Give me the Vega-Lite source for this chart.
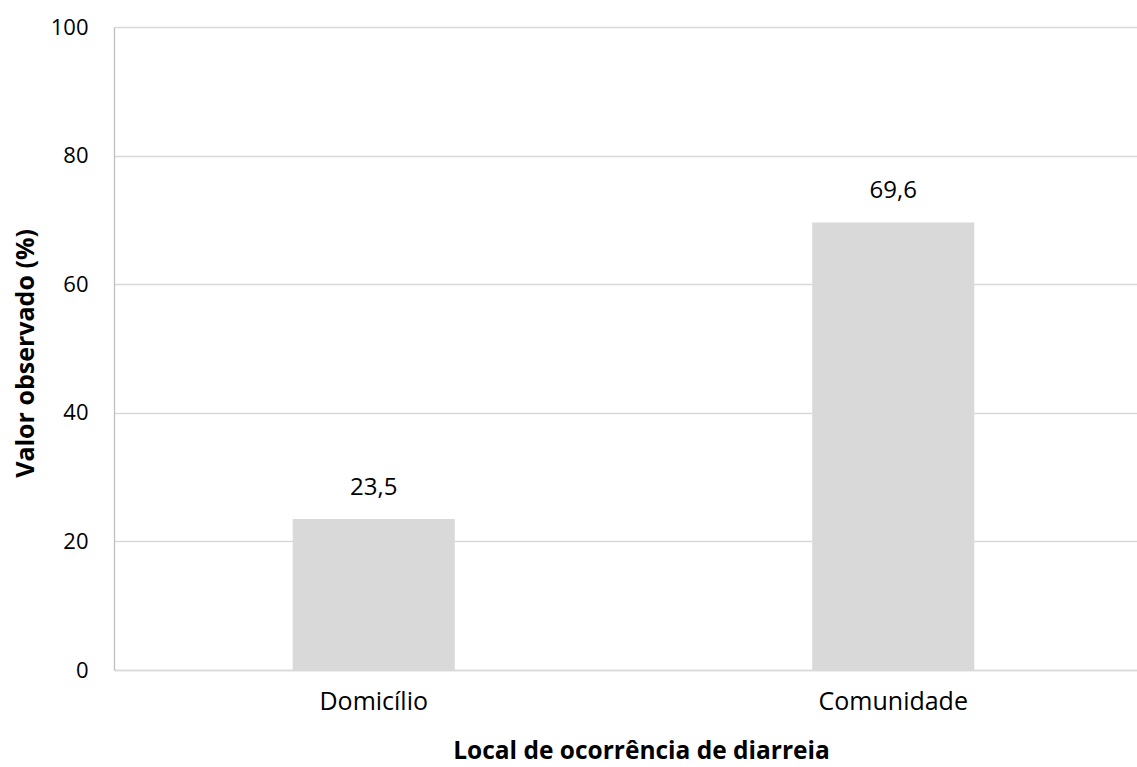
{
  "$schema": "https://vega.github.io/schema/vega-lite/v6.json",
  "width": 1023,
  "height": 643,
  "autosize": {"type": "none"},
  "padding": {"left": 114, "top": 27, "right": 0, "bottom": 97},
  "background": "white",
  "config": {
    "view": {"stroke": null},
    "font": "Open Sans",
    "locale": {"number": {"decimal": ",", "thousands": ".", "grouping": [3], "currency": ["R$", ""]}}
  },
  "data": {
    "values": [
      {"local": "Domicílio", "valor": 23.5},
      {"local": "Comunidade", "valor": 69.6}
    ]
  },
  "encoding": {
    "x": {
      "field": "local",
      "type": "nominal",
      "sort": null,
      "scale": {"range": [0, 1039], "paddingInner": 0.688, "paddingOuter": 0.344},
      "axis": {
        "title": "Local de ocorrência de diarreia",
        "titleFont": "Open Sans",
        "titleFontSize": 24.5,
        "titleFontWeight": "bold",
        "titleColor": "#000000",
        "titleX": 527,
        "titleY": 93,
        "titleBaseline": "bottom",
        "labelAngle": 0,
        "labelFontSize": 25,
        "labelColor": "#000000",
        "labelPadding": 19,
        "ticks": false,
        "domain": true,
        "domainColor": "#d9d9d9",
        "domainWidth": 1.3
      }
    },
    "y": {
      "field": "valor",
      "type": "quantitative",
      "scale": {"domain": [0, 100]},
      "axis": {
        "title": "Valor observado (%)",
        "titleFont": "Open Sans",
        "titleFontSize": 25,
        "titleFontWeight": "bold",
        "titleColor": "#000000",
        "titleX": -89,
        "titleY": 326,
        "titleAngle": -90,
        "titleBaseline": "middle",
        "values": [0, 20, 40, 60, 80, 100],
        "format": "d",
        "labelFontSize": 22,
        "labelColor": "#000000",
        "labelPadding": 26,
        "ticks": false,
        "domainColor": "#bfbfbf",
        "domainWidth": 1.3,
        "grid": true,
        "gridColor": "#d9d9d9",
        "gridWidth": 1.3
      }
    }
  },
  "layer": [
    {"mark": {"type": "bar", "color": "#d9d9d9"}},
    {
      "mark": {"type": "text", "dy": -19, "baseline": "bottom", "fontSize": 24, "color": "#000000", "font": "Open Sans"},
      "encoding": {"text": {"field": "valor", "type": "quantitative", "format": ".1f"}}
    }
  ]
}
